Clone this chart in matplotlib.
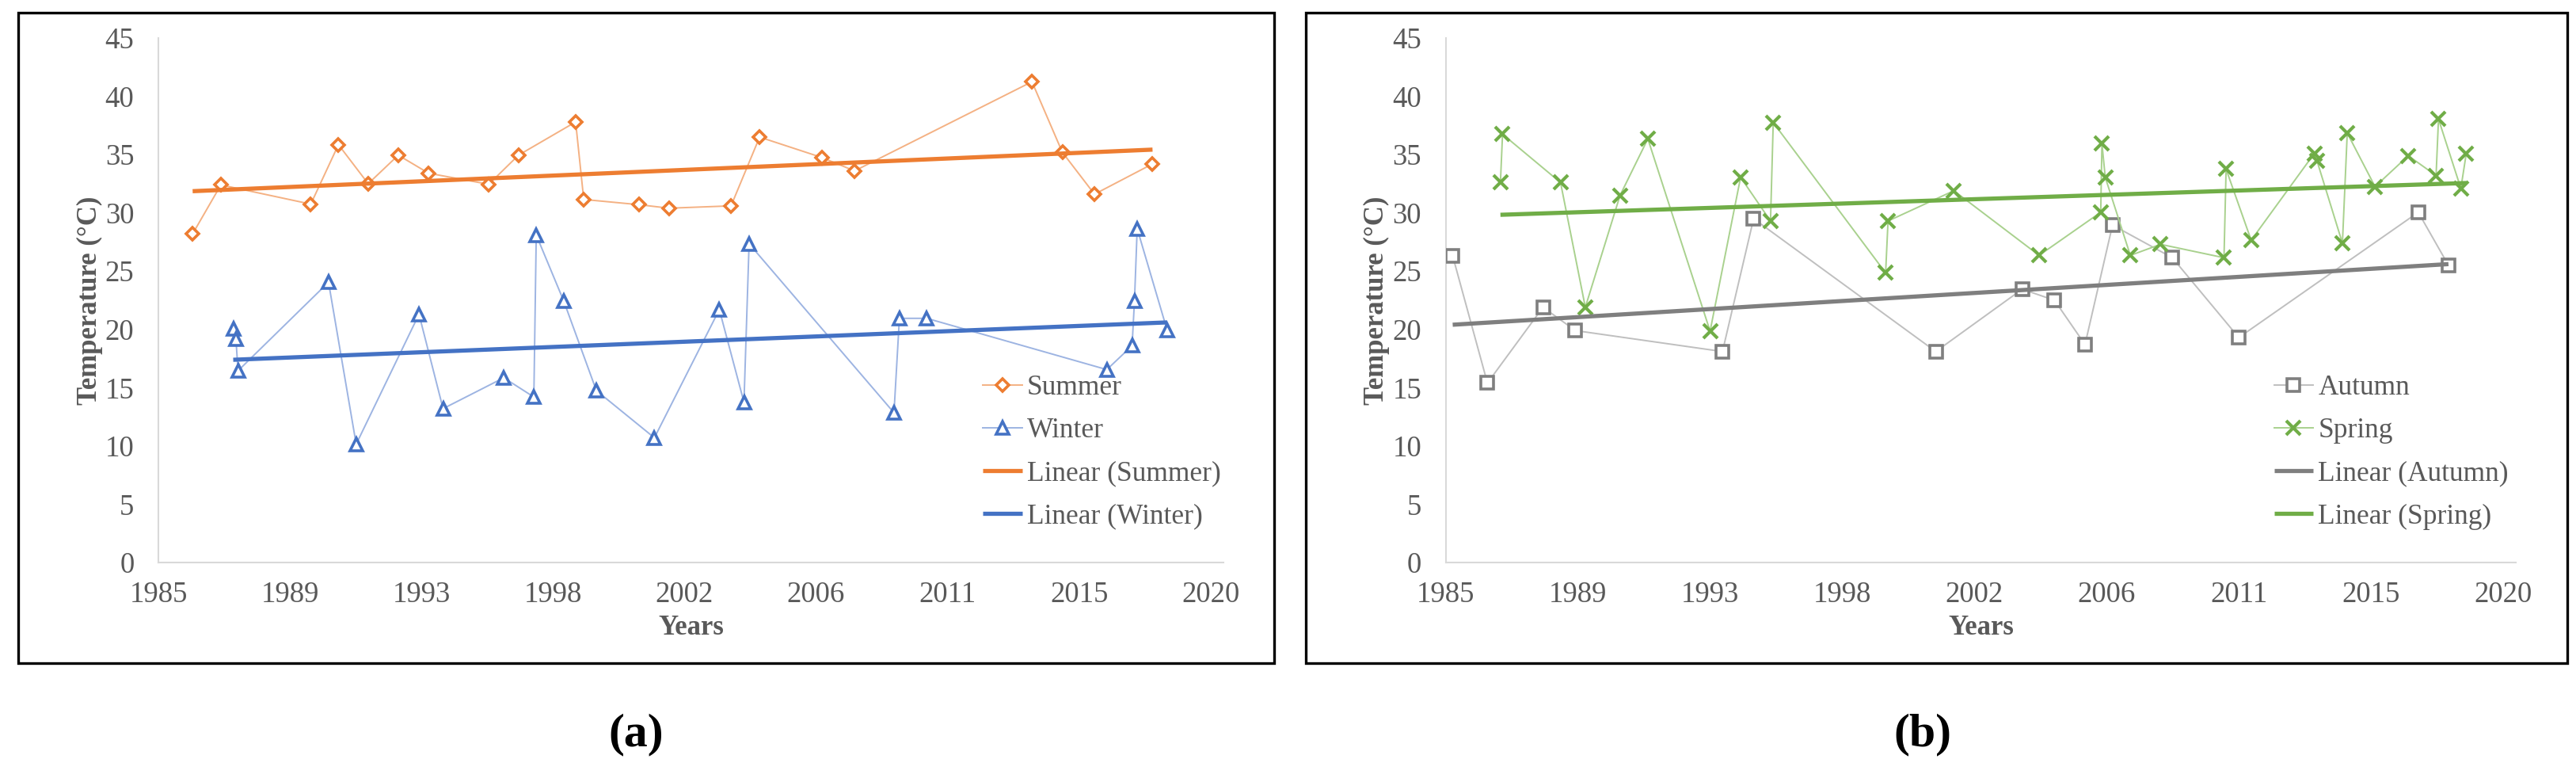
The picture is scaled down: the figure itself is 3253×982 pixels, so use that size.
import matplotlib.pyplot as plt
import numpy as np

plt.rcParams['font.family'] = ['Liberation Serif', 'DejaVu Serif']

# Panel (a) data: summer and winter temperatures (deg C) by fractional year
summer_years = [1986.14, 1987.08, 1990.07, 1990.99, 1991.98, 1992.98, 1993.99, 1995.99, 1996.98,
                1998.88, 1999.15, 2000.99, 2001.99, 2004.05, 2005.00, 2007.07, 2008.16, 2014.06,
                2015.07, 2016.14, 2018.07]
summer_temp = [28.2, 32.4, 30.75, 35.85, 32.5, 34.95, 33.4, 32.45, 34.95,
               37.8, 31.15, 30.7, 30.4, 30.6, 36.5, 34.75, 33.6, 41.25,
               35.2, 31.6, 34.2]

winter_years = [1987.49, 1987.58, 1987.65, 1990.66, 1991.58, 1993.67, 1994.47, 1996.49, 1997.49,
                1997.57, 1998.49, 1999.57, 2001.50, 2003.66, 2004.48, 2004.65, 2009.47, 2009.65,
                2010.56, 2016.55, 2017.39, 2017.47, 2017.56, 2018.56]
winter_temp = [20.05, 19.15, 16.45, 24.05, 10.15, 21.3, 13.2, 15.85, 14.2,
               28.1, 22.4, 14.75, 10.7, 21.7, 13.75, 27.35, 12.85, 20.95,
               20.95, 16.55, 18.6, 22.45, 28.65, 19.9]

# Panel (b) data: autumn and spring
autumn_years = [1985.23, 1986.38, 1988.22, 1989.29, 1994.16, 1995.19, 2001.22, 2004.08,
                2005.15, 2006.16, 2007.07, 2009.05, 2011.25, 2017.19, 2018.19]
autumn_temp = [26.3, 15.4, 21.9, 19.9, 18.1, 29.5, 18.1, 23.45,
               22.5, 18.7, 28.95, 26.15, 19.3, 30.05, 25.5]

spring_years = [1986.81, 1986.88, 1988.80, 1989.62, 1990.77, 1991.69, 1993.75, 1994.76,
                1995.75, 1995.84, 1999.56, 1999.64, 2001.82, 2004.64, 2006.68, 2006.72,
                2006.83, 2007.66, 2008.66, 2010.76, 2010.83, 2011.66, 2013.75, 2013.84,
                2014.68, 2014.84, 2015.76, 2016.86, 2017.78, 2017.86, 2018.60, 2018.78]
spring_temp = [32.6, 36.75, 32.6, 21.9, 31.5, 36.35, 19.85, 33.05,
               29.3, 37.75, 24.85, 29.3, 31.9, 26.35, 30.05, 35.95,
               33.05, 26.35, 27.3, 26.15, 33.75, 27.65, 35.1, 34.45,
               27.4, 36.85, 32.25, 34.9, 33.2, 38.05, 32.1, 35.1]

tick_labels = ['1985', '1989', '1993', '1998', '2002', '2006', '2011', '2015', '2020']

W, H = 3253, 982
fig = plt.figure(figsize=(W / 100, H / 100), dpi=100)
txt = '#595959'


def px_axes(x0, x1, y_top, y_bot):
    return fig.add_axes([x0 / W, 1 - y_bot / H, (x1 - x0) / W, (y_bot - y_top) / H])


def frame(x0, x1, y0, y1):
    fig.add_artist(plt.Rectangle((x0 / W, 1 - y1 / H), (x1 - x0) / W, (y1 - y0) / H,
                                 transform=fig.transFigure, fill=False, edgecolor='black', lw=2.4))


def series(ax, xs, ys, color, light, marker, ms, label, mew=2.6):
    ax.plot(xs, ys, color=light, lw=1.4, marker=marker, ms=ms,
            mfc='white', mec=color, mew=mew, label=label, zorder=3)


def trend(ax, xs, ys, color, label):
    k, b = np.polyfit(xs, ys, 1)
    xx = np.array([min(xs), max(xs)])
    ax.plot(xx, k * xx + b, color=color, lw=3.8, label=label, zorder=4, solid_capstyle='butt')


def style(ax, leg_x):
    ax.set_xlim(1985, 2020.43)
    ax.set_ylim(0, 45)
    ax.set_xticks(np.linspace(1985, 2020, 9))
    ax.set_xticklabels(tick_labels)
    ax.set_yticks(range(0, 46, 5))
    ax.tick_params(length=0, labelsize=26.5, labelcolor=txt)
    ax.tick_params(axis='y', pad=22)
    ax.tick_params(axis='x', pad=17)
    for s in ['top', 'right']:
        ax.spines[s].set_visible(False)
    for s in ['left', 'bottom']:
        ax.spines[s].set_color('#D9D9D9')
        ax.spines[s].set_linewidth(1.5)
    ax.set_ylabel('Temperature (°C)', fontsize=25, fontweight='bold', color=txt)
    ax.yaxis.set_label_coords(-0.052, 0.5)
    ax.set_xlabel('Years', fontsize=25, fontweight='bold', color=txt)
    ax.xaxis.set_label_coords(0.5, -0.1)
    ax.legend(loc='upper left', bbox_to_anchor=(leg_x / W, 1 - 473 / H), bbox_transform=fig.transFigure,
              frameon=False, fontsize=25.5, labelcolor=txt, borderpad=0, borderaxespad=0,
              handlelength=1.41, handletextpad=0.17, labelspacing=0.6, numpoints=1)


# (a)
ax1 = px_axes(200, 1545, 48, 710)
series(ax1, summer_years, summer_temp, '#ED7D31', '#F4B183', 'D', 8.5, 'Summer')
series(ax1, winter_years, winter_temp, '#4472C4', '#9DB4E2', '^', 11.5, 'Winter')
trend(ax1, summer_years, summer_temp, '#ED7D31', 'Linear (Summer)')
trend(ax1, winter_years, winter_temp, '#4472C4', 'Linear (Winter)')
style(ax1, 1241)
frame(22.5, 1609, 15.7, 836.7)

# (b)
ax2 = px_axes(1825.7, 3177.4, 48, 710)
series(ax2, autumn_years, autumn_temp, '#7F7F7F', '#BFBFBF', 's', 12, 'Autumn')
series(ax2, spring_years, spring_temp, '#70AD47', '#A9D18E', 'x', 12.5, 'Spring', mew=3)
trend(ax2, autumn_years, autumn_temp, '#7F7F7F', 'Linear (Autumn)')
trend(ax2, spring_years, spring_temp, '#70AD47', 'Linear (Spring)')
style(ax2, 2871.5)
frame(1649, 3242, 15.7, 836.7)

# panel captions
fig.text(803 / W, 1 - 927 / H, '(a)', fontsize=43, fontweight='bold', ha='center', va='center')
fig.text(2428 / W, 1 - 927 / H, '(b)', fontsize=43, fontweight='bold', ha='center', va='center')

fig.savefig('out.png', dpi=100)
